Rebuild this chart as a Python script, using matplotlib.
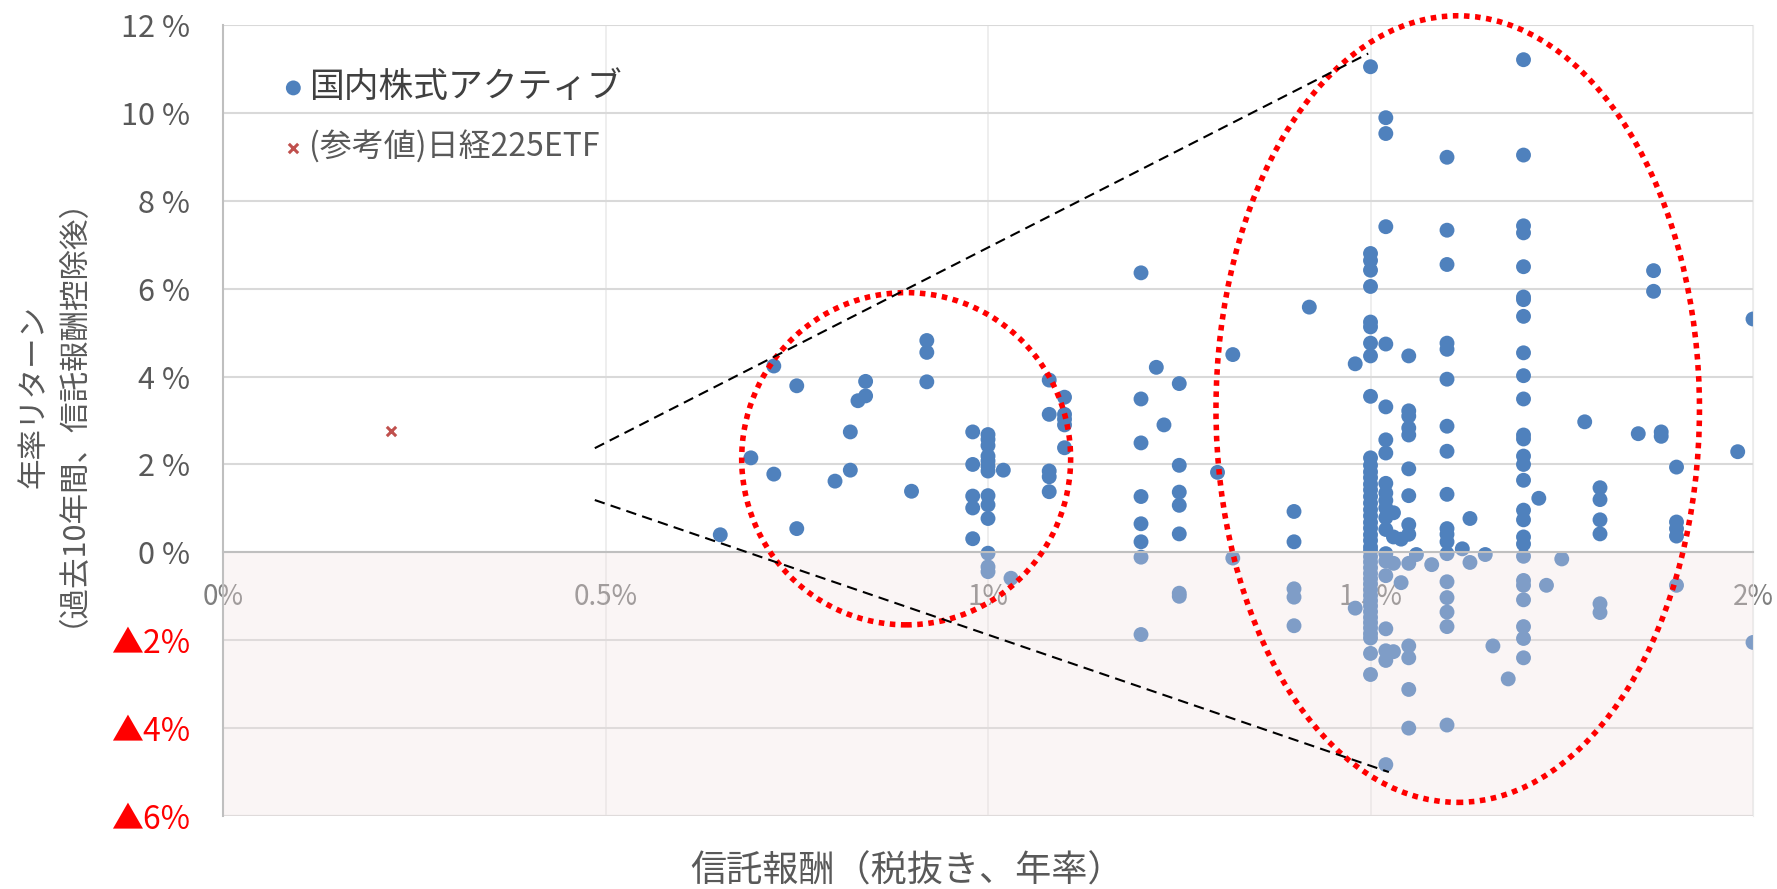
import numpy as np
import matplotlib.pyplot as plt
from matplotlib.patches import Ellipse

plt.rcParams['font.family'] = ['Noto Sans CJK JP', 'DejaVu Sans']

# 散らばっている単独の点 (信託報酬 %, 年率リターン %)
single_fee = [0.65, 0.69, 0.72, 0.72, 0.75, 0.75, 0.80, 0.82, 0.82, 0.83, 0.84, 0.84,
              0.90, 0.92, 0.92, 0.92, 1.02, 1.03, 1.22, 1.23, 1.30, 1.32, 1.32, 1.42,
              1.48, 1.48, 1.53, 1.53, 1.53, 1.53, 1.54, 1.54, 1.56, 1.58, 1.62, 1.63,
              1.63, 1.65, 1.66, 1.68, 1.72, 1.73, 1.75, 1.78, 1.85, 1.87, 1.87, 1.88,
              1.88, 1.98, 2.00, 2.00]
single_ret = [0.40, 2.15, 4.24, 1.78, 3.79, 0.54, 1.62, 2.74, 1.87, 3.45, 3.56, 3.89,
              1.39, 4.82, 4.55, 3.88, 1.87, -0.59, 4.21, 2.90, 1.82, 4.50, -0.13, 5.58,
              4.29, -1.27, 0.90, 0.35, -0.25, -2.26, 0.30, -0.69, -0.05, -0.28, 0.08, 0.77,
              -0.23, -0.05, -2.13, -2.88, 1.23, -0.75, -0.15, 2.97, 2.70, 6.41, 5.94, 2.74,
              2.64, 2.29, 5.31, -2.05]

# 同じ信託報酬水準に並ぶ点
ret_098 = [2.74, 2.0, 1.28, 1.01, 0.31]
ret_100 = [2.68, 2.57, 2.43, 2.19, 2.08, 1.96, 1.85, 1.29, 1.08, 0.77, -0.02, -0.33, -0.44]
ret_108 = [3.92, 3.14, 1.85, 1.72, 1.38]
ret_110 = [3.53, 3.14, 3.03, 2.90, 2.38]
ret_120 = [6.36, 3.49, 2.49, 1.27, 0.65, 0.24, -0.11, -1.87]
ret_125 = [3.84, 1.98, 1.37, 1.07, 0.42, -0.93, -1.0]
ret_140 = [0.93, 0.24, -0.83, -1.02, -1.67]
ret_150 = [11.05, 6.8, 6.64, 6.42, 6.05, 5.24, 5.13, 4.76, 4.47, 3.55, 2.15, 1.98, 1.83,
           1.7, 1.55, 1.42, 1.27, 1.12, 0.97, 0.83, 0.68, 0.55, 0.4, 0.27, 0.12, 0.03,
           -0.1, -0.22, -0.35, -0.48, -0.6, -0.72, -0.85, -0.98, -1.1, -1.22, -1.35,
           -1.48, -1.6, -1.72, -1.85, -1.95, -2.3, -2.78]
ret_152 = [9.89, 9.53, 7.41, 4.74, 3.31, 2.56, 2.26, 1.57, 1.35, 1.18, 1.01, 0.79, 0.52,
           -0.03, -0.2, -0.53, -1.74, -2.24, -2.46, -4.83]
ret_155 = [4.47, 3.22, 3.1, 2.83, 2.67, 1.9, 1.29, 0.63, 0.41, -0.25, -2.13, -2.4, -3.12, -4.0]
ret_160 = [8.99, 7.33, 6.55, 4.76, 4.62, 3.94, 2.87, 2.3, 1.32, 0.54, 0.41, 0.24, -0.03,
           -0.67, -1.03, -1.36, -1.69, -3.93]
ret_170 = [11.21, 9.04, 7.43, 7.27, 6.5, 5.81, 5.75, 5.37, 4.54, 4.02, 3.49, 2.67, 2.58,
           2.19, 2.0, 1.64, 0.96, 0.74, 0.35, 0.19, -0.09, -0.64, -0.75, -1.08, -1.69,
           -1.96, -2.4]
ret_180 = [1.47, 1.2, 0.74, 0.42, -1.17, -1.37]
ret_190 = [1.94, 0.69, 0.54, 0.37, -0.75]

column_fees = [0.98, 1.00, 1.08, 1.10, 1.20, 1.25, 1.40, 1.50, 1.52, 1.55, 1.60, 1.70, 1.80, 1.90]
column_rets = [ret_098, ret_100, ret_108, ret_110, ret_120, ret_125, ret_140, ret_150,
               ret_152, ret_155, ret_160, ret_170, ret_180, ret_190]

# 参考値: 日経225ETF
etf_fee = [0.22]
etf_ret = [2.76]

# 注目範囲の楕円 (中心x, 中心y, 幅, 高さ)
circle_small = (0.893, 2.13, 0.43, 7.56)
circle_large = (1.614, 3.26, 0.632, 17.9)
# 破線 (x0, y0, x1, y1)
dash_upper = (0.486, 2.37, 1.497, 11.35)
dash_lower = (0.486, 1.19, 1.524, -5.0)

y_ticks = [-6, -4, -2, 0, 2, 4, 6, 8, 10, 12]
y_labels = ['▲6%', '▲4%', '▲2%', '0 %', '2 %', '4 %', '6 %', '8 %', '10 %', '12 %']
x_ticks = [0, 0.5, 1, 1.5, 2]
x_labels = ['0%', '0.5%', '1%', '1.5%', '2%']

fees = list(single_fee)
rets = list(single_ret)
for f, r in zip(column_fees, column_rets):
    fees += [f] * len(r)
    rets += r

fig = plt.figure(figsize=(17.77, 8.89), dpi=100)
ax = fig.add_axes([0.1255, 0.0821, 0.861, 0.8898])

blue = '#4F81BD'
ax.scatter(fees, rets, s=115, color=blue, edgecolors='none', zorder=2,
           label='国内株式アクティブ')
ax.scatter(etf_fee, etf_ret, s=45, marker='x', color='#C0504D', linewidths=2.2, zorder=2,
           label='(参考値)日経225ETF')

# マイナス領域 (点の上から薄く重ねる)
ax.axhspan(-6, 0, color=(0.94, 0.88, 0.88), alpha=0.3, zorder=2.2, lw=0)

ax.set_xlim(0, 2)
ax.set_ylim(-6, 12)

ax.spines['bottom'].set_position(('data', 0))
ax.spines['bottom'].set_color('#BFBFBF')
ax.spines['bottom'].set_linewidth(1.5)
ax.spines['left'].set_color('#BFBFBF')
ax.spines['left'].set_linewidth(1.5)
ax.spines['top'].set_visible(False)
ax.spines['right'].set_color('#EBEBEB')

ax.set_yticks(y_ticks)
ax.set_yticklabels(y_labels)
ax.set_xticks(x_ticks)
ax.set_xticklabels(x_labels)
ax.tick_params(axis='both', length=0)
ax.tick_params(axis='y', pad=24)
ax.tick_params(axis='x', pad=21, labelsize=20, labelcolor='#7F7F7F')
for lab, v in zip(ax.get_yticklabels(), y_ticks):
    if v < 0:
        lab.set_color('#FF0000')
        lab.set_fontsize(23)
    else:
        lab.set_color('#595959')
        lab.set_fontsize(22)

ax.grid(axis='y', color='#D9D9D9', lw=1.5)
ax.grid(axis='x', color='#EBEBEB', lw=1.2)
ax.axhline(-6, color='#D9D9D9', lw=1.5, zorder=1)

# 赤い点線の楕円
for cx, cy, w, h in [circle_small, circle_large]:
    ax.add_patch(Ellipse((cx, cy), w, h, fill=False, edgecolor='#FF0000', lw=4,
                         linestyle=(0, (1, 1)), zorder=4, clip_on=False))

# 黒い破線
for x0, y0, x1, y1 in [dash_upper, dash_lower]:
    ax.plot([x0, x1], [y0, y1], color='black', lw=1.5, linestyle=(0, (5, 3)), zorder=4)

ax.set_ylabel('年率リターン\n（過去10年間、信託報酬控除後）', fontsize=22, color='#595959',
              linespacing=0.63)
ax.yaxis.set_label_coords(-0.099, 0.53)
fig.text(0.5102, 0.02, '信託報酬（税抜き、年率）', fontsize=26, color='#595959',
         ha='center', va='center')

leg = ax.legend(loc='upper left', bbox_to_anchor=(0.021, 0.965), frameon=False,
                handletextpad=-0.15, handlelength=1.2, labelspacing=0.75, borderpad=0,
                prop={'size': 25})
leg.get_texts()[0].set_color('#404040')
leg.get_texts()[1].set_color('#595959')
leg.get_texts()[1].set_fontsize(23)

fig.savefig('out.png', dpi=100)
